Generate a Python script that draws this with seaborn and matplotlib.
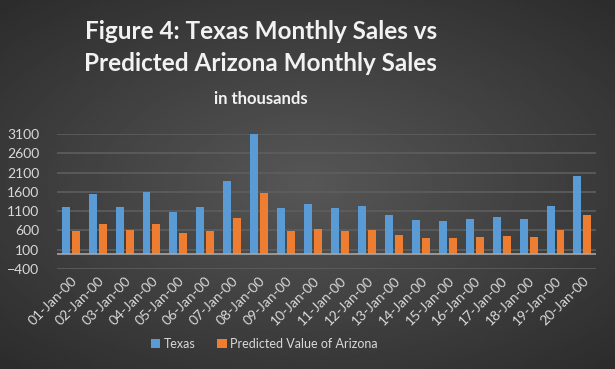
import numpy as np
import pandas as pd
import seaborn as sns
import matplotlib
matplotlib.use("Agg")
import matplotlib.pyplot as plt

# chart values (in thousands)
dates = [f"{d:02d}-Jan-00" for d in range(1, 21)]
texas = [1200, 1550, 1210, 1585, 1085, 1200, 1875, 3100, 1185, 1280,
         1185, 1240, 1005, 875, 840, 900, 955, 900, 1220, 2005]
arizona = [590, 765, 610, 770, 530, 590, 925, 1575, 590, 625,
           590, 610, 490, 410, 400, 435, 460, 435, 610, 1005]
series_names = ["Texas", "Predicted Value of Arizona"]
y_ticks = [-400, 100, 600, 1100, 1600, 2100, 2600, 3100]

df = pd.DataFrame({
    "date": dates * 2,
    "value": texas + arizona,
    "series": [series_names[0]] * len(dates) + [series_names[1]] * len(dates),
})

sns.set_theme(style="dark")
plt.rcParams["font.family"] = ["Lato", "DejaVu Sans"]
text_col = "#d9d9d9"

fig = plt.figure(figsize=(6.15, 3.69), dpi=100)

# radial gradient background like the Excel chart style
bg = fig.add_axes([0, 0, 1, 1], zorder=-10)
yy, xx = np.mgrid[-1:1:200j, -1:1:330j]
r = np.sqrt((xx * 0.95) ** 2 + (yy * 1.0) ** 2)
shade = 0.34 - 0.17 * np.clip(r, 0, 1.4) / 1.4
bg.imshow(shade, cmap="gray", vmin=0, vmax=1, aspect="auto",
          extent=[0, 1, 0, 1], interpolation="bilinear")
bg.set_axis_off()

ax = fig.add_axes([0.093, 0.271, 0.876, 0.366])
ax.set_facecolor("none")
sns.barplot(
    data=df, x="date", y="value", hue="series",
    palette=["#5B9BD5", "#ED7D31"], saturation=1, width=0.74, gap=0.2,
    linewidth=0, ax=ax, legend=True,
)

ax.set_ylim(-400, 3100)
ax.set_yticks(y_ticks)
ax.set_xlim(-0.5, len(dates) - 0.5)
ax.grid(axis="y", color="#5e5e5e", linewidth=1.2)
ax.grid(axis="x", visible=False)
ax.set_axisbelow(True)
ax.axhline(0, color="#a6a6a6", linewidth=1.2, zorder=1)
for s in ax.spines.values():
    s.set_visible(False)

ax.set_xlabel("")
ax.set_ylabel("")
ax.tick_params(axis="y", colors=text_col, labelsize=10, length=0, pad=13)
ax.tick_params(axis="x", colors=text_col, labelsize=10, length=0, pad=4)
plt.setp(ax.get_xticklabels(), rotation=45, ha="right", rotation_mode="anchor")

leg = ax.legend(
    loc="center", bbox_to_anchor=(0.43, 0.068), bbox_transform=fig.transFigure,
    ncol=2, frameon=False, fontsize=9, handlelength=0.75, handleheight=0.75,
    handletextpad=0.3, columnspacing=1.7,
)
for t in leg.get_texts():
    t.set_color(text_col)

fig.text(0.424, 0.915, "Figure 4: Texas Monthly Sales vs", ha="center", va="center",
         fontsize=17.5, fontweight="bold", color="#f2f2f2")
fig.text(0.424, 0.828, "Predicted Arizona Monthly Sales", ha="center", va="center",
         fontsize=17.5, fontweight="bold", color="#f2f2f2")
fig.text(0.424, 0.732, "in thousands", ha="center", va="center",
         fontsize=12, fontweight="bold", color="#f2f2f2")

fig.savefig("out.png", dpi=100)
